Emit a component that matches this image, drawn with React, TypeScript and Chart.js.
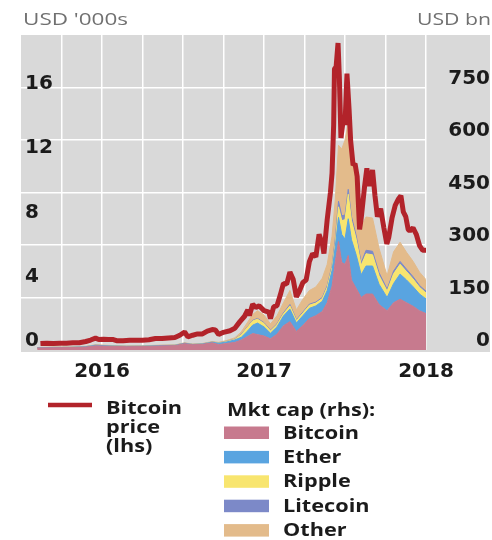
import React, { useEffect, useRef } from "react";
import { Chart, registerables } from "chart.js";

Chart.register(...registerables);

// ---------- DATA ----------
// Bitcoin price, USD thousands (left axis), x = decimal year
const priceDates = [
  2016.12, 2016.16, 2016.2, 2016.24, 2016.28, 2016.32, 2016.36, 2016.4, 2016.43, 2016.46,
  2016.48, 2016.51, 2016.54, 2016.57, 2016.59, 2016.63, 2016.67, 2016.71, 2016.75, 2016.79,
  2016.83, 2016.87, 2016.91, 2016.95, 2016.98, 2017.01, 2017.03, 2017.06, 2017.09, 2017.12,
  2017.15, 2017.18, 2017.2, 2017.22, 2017.25, 2017.29, 2017.32, 2017.35, 2017.38, 2017.4,
  2017.41, 2017.43, 2017.45, 2017.47, 2017.5, 2017.53, 2017.54, 2017.56, 2017.58, 2017.6,
  2017.62, 2017.64, 2017.66, 2017.68, 2017.7, 2017.72, 2017.74, 2017.76, 2017.78, 2017.8,
  2017.82, 2017.84, 2017.86, 2017.87, 2017.89, 2017.91, 2017.92, 2017.93, 2017.935, 2017.945,
  2017.957, 2017.965, 2017.975, 2017.99, 2018.0, 2018.012, 2018.025, 2018.035, 2018.05, 2018.062,
  2018.075, 2018.09, 2018.1, 2018.12, 2018.135, 2018.15, 2018.17, 2018.185, 2018.2, 2018.22,
  2018.24, 2018.258, 2018.27, 2018.29, 2018.31, 2018.33, 2018.345, 2018.36, 2018.375, 2018.39,
  2018.4, 2018.42, 2018.44, 2018.46, 2018.48, 2018.5, 2018.506,
];
const priceValues = [
  0.4, 0.42, 0.41, 0.42, 0.42, 0.45, 0.45, 0.53, 0.62, 0.74,
  0.65, 0.67, 0.66, 0.65, 0.58, 0.58, 0.61, 0.61, 0.61, 0.64,
  0.72, 0.71, 0.75, 0.78, 0.92, 1.12, 0.82, 0.92, 1.0, 1.0,
  1.18, 1.27, 1.24, 0.96, 1.1, 1.2, 1.35, 1.75, 2.1, 2.5,
  2.15, 2.85, 2.65, 2.75, 2.45, 2.35, 1.95, 2.7, 2.75, 3.4,
  4.15, 4.1, 4.85, 4.4, 3.3, 3.7, 4.2, 4.35, 5.5, 6.0,
  5.8, 7.2, 6.6, 6.0, 8.1, 9.8, 11.0, 14.0, 17.5, 17.6,
  19.1, 17.0, 13.2, 14.4, 14.0, 17.2, 15.0, 13.0, 11.5, 11.6,
  10.8, 7.5, 8.2, 10.1, 11.3, 10.2, 11.2, 9.6, 8.3, 8.8,
  7.6, 6.6, 7.0, 8.2, 9.0, 9.4, 9.6, 8.6, 8.3, 7.5,
  7.4, 7.6, 7.2, 6.5, 6.2, 6.2, 6.0,
];

// Market capitalisation, USD bn (right axis, stacked)
const capDates = [
  2016.1, 2016.2, 2016.3, 2016.4, 2016.46, 2016.55, 2016.65, 2016.75, 2016.85, 2016.95,
  2017.01, 2017.06, 2017.12, 2017.18, 2017.22, 2017.27, 2017.32, 2017.36, 2017.4, 2017.43,
  2017.46, 2017.5, 2017.54, 2017.58, 2017.62, 2017.66, 2017.7, 2017.74, 2017.78, 2017.82,
  2017.86, 2017.89, 2017.92, 2017.94, 2017.96, 2017.98, 2018.0, 2018.02, 2018.04, 2018.07,
  2018.1, 2018.13, 2018.17, 2018.21, 2018.26, 2018.3, 2018.34, 2018.38, 2018.42, 2018.46,
  2018.5,
];
const capBitcoin = [
  5.8, 6.3, 6.8, 8.3, 11.8, 10.6, 9.4, 9.7, 11.5, 12.5,
  18.2, 14.8, 16.2, 20.6, 15.4, 18.7, 21.7, 28.5, 39, 47,
  44, 40, 32, 45, 69, 81, 53, 70, 90, 98,
  110, 135, 182, 251, 310, 250, 245, 270, 200, 175,
  150, 160, 160, 130, 112, 135, 145, 135, 125, 112,
  104,
];
const capEther = [
  0.3, 0.9, 0.7, 1.0, 1.6, 1.0, 0.9, 1.0, 0.9, 0.7,
  0.9, 0.9, 1.0, 1.7, 4.0, 4.4, 7.0, 8.0, 16, 24,
  33, 26, 16, 21, 28, 36, 24, 28, 29, 28,
  29, 35, 45, 44, 69, 80, 72, 105, 115, 95,
  65, 80, 80, 58, 38, 55, 72, 65, 56, 48,
  42,
];
const capRipple = [
  0.25, 0.25, 0.25, 0.25, 0.25, 0.22, 0.22, 0.25, 0.3, 0.24,
  0.24, 0.24, 0.25, 0.3, 0.3, 1.2, 1.5, 7, 11, 12,
  11, 10, 6.5, 6.5, 6.5, 9, 7, 7.5, 9, 8,
  8, 9.5, 9, 9.5, 30, 40, 55, 70, 55, 45,
  27, 35, 32, 25, 18, 28, 28, 24, 22, 19,
  17,
];
const capLitecoin = [
  0.15, 0.15, 0.15, 0.2, 0.2, 0.2, 0.18, 0.18, 0.18, 0.2,
  0.22, 0.2, 0.2, 0.2, 0.25, 0.5, 0.8, 1.3, 1.3, 1.6,
  2.2, 2.1, 2.0, 2.1, 2.5, 4.0, 2.5, 2.8, 3.0, 3.0,
  3.2, 4.0, 5.0, 12, 16, 14, 13, 14, 11, 10,
  7, 10, 10, 8, 6, 7.5, 8, 7, 6.5, 5.5,
  5,
];
const capOther = [
  0.5, 0.9, 0.8, 0.9, 1.2, 1.0, 0.9, 0.9, 0.9, 0.9,
  1.0, 0.9, 1.0, 1.4, 2.0, 2.5, 4, 7, 13, 17,
  22, 22, 18, 23, 29, 40, 28, 37, 39, 43,
  55, 61, 84, 113, 160, 190, 215, 190, 190, 160,
  105, 95, 95, 70, 38, 55, 55, 48, 44, 38,
  33,
];

const capLabels = ["Bitcoin", "Ether", "Ripple", "Litecoin", "Other"];
const capColors = ["#C77A8E", "#59A4E0", "#F8E56F", "#7C89C8", "#E3BB8B"];
const capSeries = [capBitcoin, capEther, capRipple, capLitecoin, capOther];

const xLabelYears = [2016, 2017, 2018];
const leftTicks = [0, 4, 8, 12, 16];
const rightTicks = [0, 150, 300, 450, 600, 750];

const leftTitle = "USD '000s";
const rightTitle = "USD bn";
const priceLegendLines = ["Bitcoin", "price", "(lhs)"];
const capLegendTitle = "Mkt cap (rhs):";

// ---------- STYLE ----------
const RED = "#B2232A";
const GREY_BG = "#D9D9D9";
const TICK_FONT = "'DejaVu Sans', sans-serif";
const TEXT_FONT = "'Open Sans', sans-serif";
const TEXT_COLOR = "#1b1b1b";

function drawStretched(
  ctx: CanvasRenderingContext2D,
  text: string,
  x: number,
  y: number,
  align: CanvasTextAlign,
  font: string,
  color: string,
  sx: number
) {
  ctx.save();
  ctx.font = font;
  ctx.fillStyle = color;
  ctx.textAlign = align;
  ctx.textBaseline = "alphabetic";
  ctx.translate(x, y);
  ctx.scale(sx, 1);
  ctx.fillText(text, 0, 0);
  ctx.restore();
}

function measure(ctx: CanvasRenderingContext2D, text: string, font: string) {
  ctx.save();
  ctx.font = font;
  const w = ctx.measureText(text).width || 1;
  ctx.restore();
  return w;
}

const decorPlugin = {
  id: "decor",
  beforeDraw(chart: any) {
    const { ctx, chartArea } = chart;
    const y1 = chart.scales.y1;
    ctx.save();
    ctx.fillStyle = GREY_BG;
    ctx.fillRect(
      chartArea.left,
      chartArea.top,
      y1.right - chartArea.left,
      chartArea.bottom - chartArea.top + 2
    );
    ctx.restore();
  },
  afterDraw(chart: any) {
    const ctx: CanvasRenderingContext2D = chart.ctx;
    const ds = chart.data.datasets;
    const titleFont = `400 16px ${TEXT_FONT}`;
    drawStretched(ctx, leftTitle, 23, 25, "left", titleFont, "#707070", 105 / measure(ctx, leftTitle, titleFont));
    drawStretched(ctx, rightTitle, 491, 25, "right", titleFont, "#707070", 74 / measure(ctx, rightTitle, titleFont));

    const legFont = `700 18px ${TEXT_FONT}`;
    const s = 76 / measure(ctx, "Bitcoin", legFont);
    // price legend
    ctx.save();
    ctx.strokeStyle = ds[0].borderColor;
    ctx.lineWidth = 4.5;
    ctx.beginPath();
    ctx.moveTo(48, 405);
    ctx.lineTo(92, 405);
    ctx.stroke();
    ctx.restore();
    priceLegendLines.forEach((t, i) => {
      drawStretched(ctx, t, 106, 413.5 + i * 19.2, "left", legFont, TEXT_COLOR, s);
    });

    // market cap legend
    drawStretched(ctx, capLegendTitle, 227, 416, "left", legFont, TEXT_COLOR, s);
    for (let i = 1; i < ds.length; i++) {
      const k = i - 1;
      ctx.save();
      ctx.fillStyle = ds[i].backgroundColor;
      ctx.fillRect(224, 426.5 + k * 24.4, 45, 12.5);
      ctx.restore();
      drawStretched(ctx, ds[i].label, 283, 438.5 + k * 24.4, "left", legFont, TEXT_COLOR, s);
    }
  },
};

export default function App() {
  const ref = useRef<HTMLCanvasElement>(null);

  useEffect(() => {
    document.body.style.margin = "0";
    const canvas = ref.current;
    if (!canvas) return;

    const datasets: any[] = [
      {
        label: "Bitcoin price (lhs)",
        data: priceDates.map((x, i) => ({ x, y: priceValues[i] })),
        yAxisID: "y",
        borderColor: RED,
        backgroundColor: RED,
        borderWidth: 5,
        borderJoinStyle: "bevel",
        pointRadius: 0,
        fill: false,
        tension: 0,
        order: 0,
      },
      ...capSeries.map((values, i) => ({
        label: capLabels[i],
        data: capDates.map((x, j) => ({ x, y: values[j] })),
        yAxisID: "y1",
        borderColor: capColors[i],
        backgroundColor: capColors[i],
        borderWidth: 1,
        pointRadius: 0,
        fill: i === 0 ? "origin" : "-1",
        tension: 0,
        order: 1,
      })),
    ];

    const tickFont = { family: TICK_FONT, size: 20, weight: "bold" };

    const chart = new Chart(canvas, {
      type: "line",
      data: { datasets },
      plugins: [decorPlugin],
      options: {
        animation: false,
        responsive: false,
        maintainAspectRatio: false,
        layout: { padding: { left: 21, right: 2, top: 30, bottom: 150 } },
        plugins: {
          legend: { display: false },
          tooltip: { enabled: false },
        },
        scales: {
          x: {
            type: "linear",
            min: 2016,
            max: 2018.5,
            ticks: {
              stepSize: 0.25,
              autoSkip: false,
              maxRotation: 0,
              padding: 10,
              font: tickFont,
              color: TEXT_COLOR,
              callback: (value: any) => {
                const v = Number(value);
                const f = Math.floor(v);
                return Math.abs(v - f - 0.5) < 1e-6 && xLabelYears.includes(f) ? String(f) : "";
              },
            },
            grid: {
              color: (c: any) => (c.index === 0 ? "rgba(0,0,0,0)" : "#ffffff"),
              lineWidth: 1.5,
              drawTicks: false,
            },
            border: { display: false },
            afterFit: (sc: any) => {
              sc.height = 40;
            },
          },
          y: {
            position: "left",
            min: 0,
            max: 19.6,
            ticks: {
              stepSize: 4,
              mirror: true,
              padding: 4,
              labelOffset: -9,
              font: tickFont,
              color: TEXT_COLOR,
              callback: (value: any) => (leftTicks.includes(Number(value)) ? String(value) : ""),
            },
            grid: { display: false },
            border: { display: false },
            afterFit: (sc: any) => {
              sc.width = 0;
            },
          },
          y1: {
            position: "right",
            stacked: true,
            min: 0,
            max: 900,
            ticks: {
              stepSize: 150,
              crossAlign: "far",
              padding: 23,
              labelOffset: -9,
              font: tickFont,
              color: TEXT_COLOR,
              callback: (value: any) => (rightTicks.includes(Number(value)) ? String(value) : ""),
            },
            grid: {
              color: (c: any) =>
                c.tick && (c.tick.value === 0 || c.tick.value === 900) ? "rgba(0,0,0,0)" : "#ffffff",
              lineWidth: 1.5,
              drawTicks: false,
            },
            border: { display: false },
            afterFit: (sc: any) => {
              sc.width = 64;
            },
          },
        },
      } as any,
    });

    return () => chart.destroy();
  }, []);

  return (
    <div style={{ position: "absolute", left: 0, top: 0, width: 492, height: 540, background: "#fff" }}>
      <canvas ref={ref} width={492} height={540} style={{ display: "block", width: 492, height: 540 }} />
    </div>
  );
}
